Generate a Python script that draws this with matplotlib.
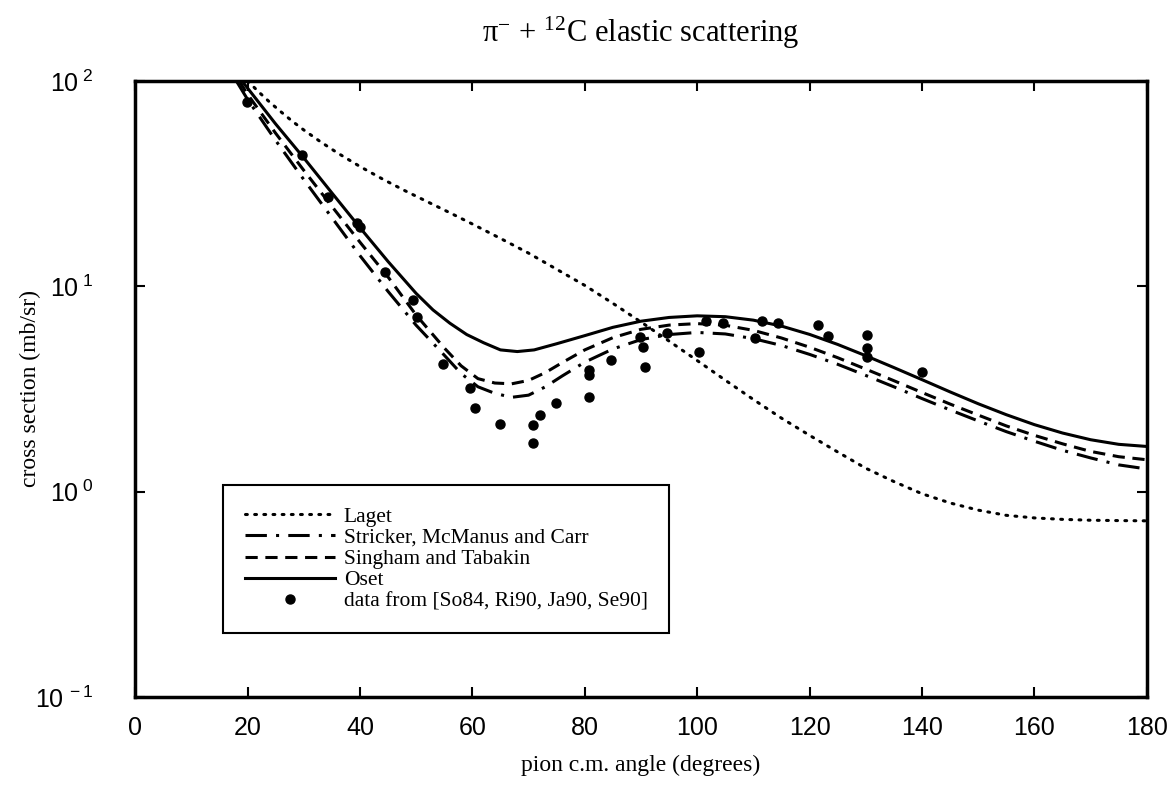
#!/usr/bin/env python3
# -*- coding: utf-8 -*-
import numpy as np
import matplotlib
matplotlib.use('Agg')
import matplotlib.pyplot as plt
from matplotlib.ticker import FixedLocator, FuncFormatter, NullLocator

plt.rcParams['font.family'] = ['Liberation Serif', 'DejaVu Serif']
plt.rcParams['mathtext.fontset'] = 'stix'

# curves: angle (degrees) and cross section (mb/sr)
laget_deg = [20, 22, 24, 26, 28, 30, 33, 36, 40, 44, 48, 52, 56, 60, 65, 70, 75, 80, 85, 90, 95, 100,
             105, 110, 115, 120, 125, 130, 135, 140, 145, 150, 155, 160, 165, 170, 175, 180]
laget_val = [100, 88.3, 78.5, 70.5, 63.5, 57.7, 50.5, 44.6, 38.3, 33.3, 29.2, 25.8, 22.8, 20.1, 17.1,
             14.5, 12.1, 10.1, 8.26, 6.70, 5.41, 4.35, 3.49, 2.81, 2.28, 1.88, 1.56, 1.30, 1.12,
             0.977, 0.881, 0.813, 0.767, 0.745, 0.733, 0.726, 0.723, 0.721]

stricker_deg = [18, 20, 25, 30, 35, 40, 45, 50, 55, 58, 61, 64, 67, 70, 73, 76, 80, 85, 90, 95, 100,
                105, 110, 115, 120, 125, 130, 135, 140, 145, 150, 155, 160, 165, 170, 175, 180]
stricker_val = [100, 81.3, 51.3, 33.1, 21.6, 14.1, 9.44, 6.46, 4.62, 3.76, 3.24, 3.01, 2.88, 2.95,
                3.24, 3.66, 4.27, 4.95, 5.50, 5.82, 5.96, 5.86, 5.56, 5.15, 4.66, 4.17, 3.68, 3.24,
                2.84, 2.50, 2.21, 1.96, 1.76, 1.59, 1.46, 1.35, 1.29]

singham_deg = [18.5, 20, 25, 30, 35, 40, 45, 50, 55, 58, 61, 64, 67, 70, 73, 76, 80, 85, 90, 95, 100,
               105, 110, 115, 120, 125, 130, 135, 140, 145, 150, 155, 160, 165, 170, 175, 180]
singham_val = [100, 86.1, 55.6, 36.7, 24.5, 16.4, 11.1, 7.24, 5.01, 4.10, 3.55, 3.38, 3.35, 3.48,
               3.80, 4.25, 4.90, 5.62, 6.17, 6.47, 6.58, 6.46, 6.10, 5.60, 5.05, 4.49, 3.95, 3.47,
               3.04, 2.67, 2.36, 2.09, 1.88, 1.71, 1.57, 1.48, 1.43]

oset_deg = [19, 20, 25, 30, 35, 40, 45, 50, 53, 56, 59, 62, 65, 68, 71, 75, 80, 85, 90, 95, 100,
            105, 110, 115, 120, 125, 130, 135, 140, 145, 150, 155, 160, 165, 170, 175, 180]
oset_val = [100, 92.3, 61.7, 42.2, 28.5, 19.3, 13.2, 9.23, 7.67, 6.61, 5.82, 5.31, 4.90, 4.81, 4.90,
            5.25, 5.75, 6.31, 6.76, 7.05, 7.18, 7.11, 6.84, 6.40, 5.83, 5.21, 4.59, 4.02, 3.51, 3.06,
            2.68, 2.37, 2.12, 1.93, 1.79, 1.70, 1.66]

# measured points [So84, Ri90, Ja90, Se90]
data_deg = [19.9, 29.7, 34.3, 39.5, 40.0, 44.5, 49.5, 50.2, 54.8, 59.6, 60.5, 64.9, 70.8, 70.8, 72.1, 74.9,
            80.8, 80.8, 80.8, 84.7, 89.9, 90.4, 90.7, 94.7, 100.4, 101.6, 104.6, 110.3, 111.6, 114.4,
            121.5, 123.3, 130.2, 130.2, 130.2, 140.0]
data_val = [79, 43.6, 27.2, 20.3, 19.5, 11.7, 8.6, 7.1, 4.2, 3.2, 2.55, 2.13, 2.11, 1.73, 2.36, 2.70,
            2.89, 3.70, 3.91, 4.38, 5.66, 5.06, 4.05, 5.93, 4.79, 6.78, 6.63, 5.60, 6.78, 6.63,
            6.48, 5.73, 5.8, 5.0, 4.5, 3.83]

fig = plt.figure(figsize=(11.75, 7.93), dpi=100)
ax = fig.add_axes([0.115, 0.121, 0.861, 0.777])

ax.plot(laget_deg, laget_val, color='black', lw=2.2, linestyle=(0, (0.6, 2.4)),
        dash_capstyle='round', label='Laget')
ax.plot(stricker_deg, stricker_val, color='black', lw=2.2, linestyle=(0, (7, 3, 1, 3)),
        label='Stricker, McManus and Carr')
ax.plot(singham_deg, singham_val, color='black', lw=2.2, linestyle=(0, (4, 2.5)),
        label='Singham and Tabakin')
ax.plot(oset_deg, oset_val, color='black', lw=2.2, linestyle='-', label='Oset')
ax.plot(data_deg, data_val, 'o', color='black', ms=6.5, label='data from [So84, Ri90, Ja90, Se90]')

ax.set_yscale('log')
ax.set_xlim(0, 180)
ax.set_ylim(0.1, 100)

#x axis
ax.xaxis.set_major_locator(FixedLocator(range(0, 181, 20)))
ax.set_xlabel('pion c.m. angle (degrees)', fontsize=17, labelpad=10)

#y axis
ax.yaxis.set_major_locator(FixedLocator([0.1, 1, 10, 100]))
ax.yaxis.set_minor_locator(NullLocator())
ax.yaxis.set_major_formatter(FuncFormatter(lambda v, p: r'$\mathregular{10^{\ %d}}$' % round(np.log10(v))))
ax.set_ylabel('cross section (mb/sr)', fontsize=17)
ax.yaxis.set_label_coords(-0.093, 0.5)

ax.tick_params(axis='both', which='major', direction='in', length=7, width=1.5,
               top=True, right=True, labelsize=18)
ax.tick_params(axis='x', pad=14)
ax.tick_params(axis='y', pad=30)
for lab in ax.get_xticklabels() + ax.get_yticklabels():
    lab.set_fontfamily('Liberation Sans')
for sp in ax.spines.values():
    sp.set_linewidth(2.5)

#title
ax.set_title(r'$\mathregular{\pi^{-}}$ + $^{\mathregular{12}}$C elastic scattering', fontsize=22, pad=28)

leg = ax.legend(loc='lower left', bbox_to_anchor=(0.087, 0.104), fontsize=15.5, handlelength=4.2,
                labelspacing=0.05, borderpad=1.0, handletextpad=0.4, fancybox=False, framealpha=1,
                edgecolor='black', borderaxespad=0)
leg.get_frame().set_linewidth(1.5)

fig.savefig('out.png', dpi=100)
